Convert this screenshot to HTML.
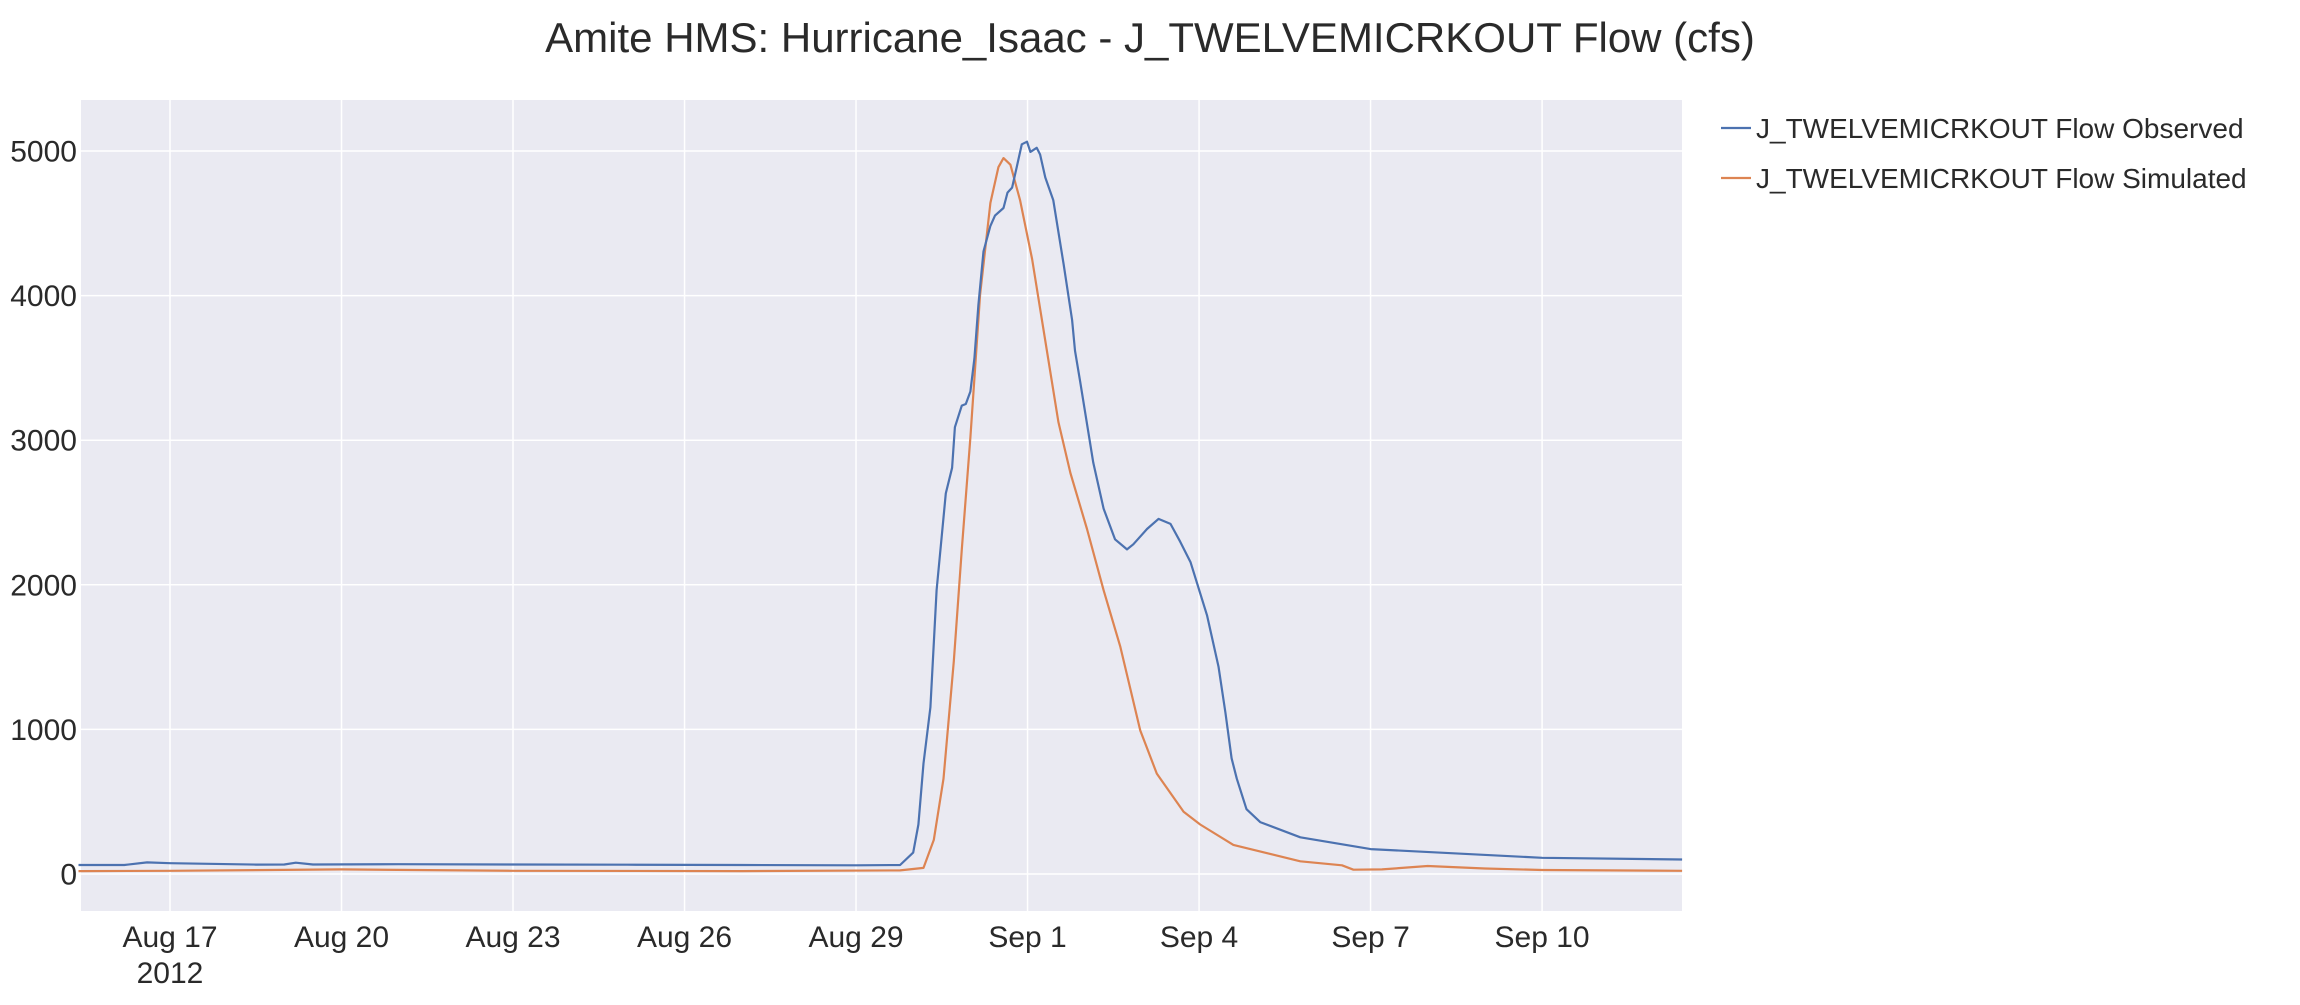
<!DOCTYPE html>
<html><head><meta charset="utf-8"><style>
body{margin:0;background:#fff;}
svg text{font-family:"Liberation Sans",Arial,sans-serif;fill:#2a2a2a;}
</style></head><body>
<svg id="chart" width="2300" height="1000" xmlns="http://www.w3.org/2000/svg">
<text x="1150" y="52" font-size="42" text-anchor="middle">Amite HMS: Hurricane_Isaac - J_TWELVEMICRKOUT Flow (cfs)</text>
<rect x="81" y="100" width="1601" height="811" fill="#EAEAF2"/>
<g id="grid"></g><g id="series"></g><g id="axes"></g>
<g>
<line x1="1721" y1="128" x2="1751" y2="128" stroke="#4c72b0" stroke-width="2.2"/>
<text x="1756" y="138" font-size="28">J_TWELVEMICRKOUT Flow Observed</text>
<line x1="1721" y1="178" x2="1751" y2="178" stroke="#dd8452" stroke-width="2.2"/>
<text x="1756" y="188" font-size="28">J_TWELVEMICRKOUT Flow Simulated</text>
</g>
</svg>
<script>
// days since Aug 17 2012 00:00
const obsDays=[-1.6,-0.8,-0.4,0,1.5,2.0,2.2,2.5,4,6,8,10,12,12.77,13.0,13.09,13.18,13.3,13.41,13.57,13.68,13.73,13.85,13.92,14.0,14.07,14.14,14.23,14.35,14.43,14.58,14.65,14.73,14.81,14.9,14.99,15.05,15.16,15.22,15.31,15.45,15.63,15.78,15.83,15.92,16.15,16.33,16.53,16.74,16.85,17.09,17.29,17.5,17.67,17.85,18.14,18.34,18.46,18.57,18.66,18.83,19.07,19.77,21,24,26.45];
const obsVals=[62,62,80,75,65,66,78,66,68,66,64,62,60,62,148,342,765,1152,1963,2632,2809,3090,3239,3250,3337,3566,3936,4306,4482,4553,4606,4712,4747,4888,5046,5064,4994,5022,4976,4817,4659,4218,3831,3619,3408,2844,2527,2315,2245,2280,2386,2456,2421,2298,2157,1787,1434,1117,800,659,448,359,254,172,112,100];
const simDays=[-1.6,0,3,6,10,12.77,13.18,13.36,13.53,13.71,13.85,14.0,14.17,14.35,14.49,14.58,14.7,14.87,15.08,15.28,15.54,15.75,16.04,16.33,16.62,16.97,17.26,17.73,18.02,18.6,19.77,20.5,20.7,21.2,22.0,23,24,26.45];
const simVals=[20,22,32,22,20,25,42,236,659,1470,2245,3020,4007,4641,4888,4951,4905,4659,4253,3760,3126,2773,2386,1963,1575,994,694,430,342,201,88,60,30,32,55,38,28,22];
const yTicks=[0,1000,2000,3000,4000,5000];
const xTickDays=[0,3,6,9,12,15,18,21,24];
const xTickLabels=["Aug 17","Aug 20","Aug 23","Aug 26","Aug 29","Sep 1","Sep 4","Sep 7","Sep 10"];
const NS="http://www.w3.org/2000/svg";
const X=d=>170+d*57.17;
const Y=v=>874-v*0.1446;
function mk(tag,attrs,parent,txt){const e=document.createElementNS(NS,tag);for(const k in attrs)e.setAttribute(k,attrs[k]);if(txt!==undefined)e.textContent=txt;parent.appendChild(e);return e;}
const grid=document.getElementById('grid'),axes=document.getElementById('axes'),ser=document.getElementById('series');
yTicks.forEach(v=>{
  const l=mk('line',{x1:81,x2:1682,y1:Y(v),y2:Y(v),stroke:'#fff','stroke-width':1.5},grid);
  
  
  const t=mk('text',{x:77,y:Y(v)+10.5,'font-size':30,'text-anchor':'end'},axes,String(v));
  
  
});
xTickDays.forEach((d,i)=>{
  const l=mk('line',{x1:X(d),x2:X(d),y1:100,y2:911,stroke:'#fff','stroke-width':1.5},grid);
  
  
  const t=mk('text',{x:X(d),y:947,'font-size':30,'text-anchor':'middle'},axes,xTickLabels[i]);
  
  
});
const yr=mk('text',{x:X(0),y:983,'font-size':30,'text-anchor':'middle'},axes,"2012");


function line(ds,vs,color,name){
  const d=ds.map((x,i)=>(i?'L':'M')+X(x).toFixed(1)+','+Y(vs[i]).toFixed(1)).join(' ');
  const p=mk('path',{d:d,fill:'none',stroke:color,'stroke-width':2.2,'stroke-linejoin':'round'},ser);
  
  
}
line(simDays,simVals,'#dd8452','simulated-flow-line');
line(obsDays,obsVals,'#4c72b0','observed-flow-line');
</script>
</body></html>
